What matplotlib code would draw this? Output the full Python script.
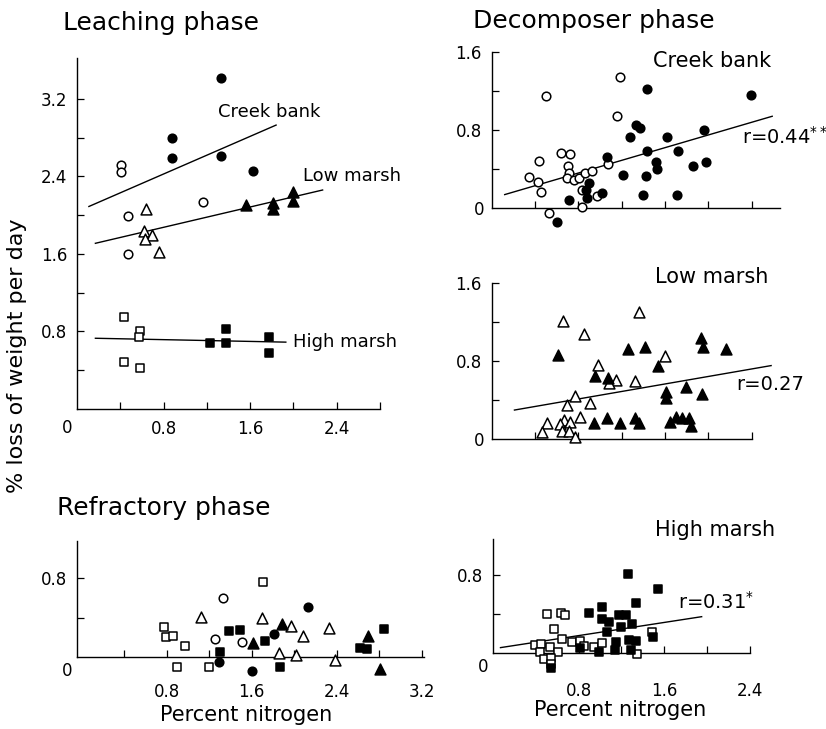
import matplotlib
matplotlib.use("Agg")
import matplotlib.pyplot as plt

# ---- data (percent N vs % loss of weight per day) ----
# Leaching phase
leach_cb_open_x = [0.41, 0.41, 0.47, 0.47, 1.16]
leach_cb_open_y = [2.52, 2.45, 1.99, 1.60, 2.14]
leach_cb_fill_x = [0.88, 0.88, 1.33, 1.33, 1.63]
leach_cb_fill_y = [2.80, 2.59, 3.42, 2.61, 2.46]
leach_lm_open_x = [0.64, 0.62, 0.69, 0.63, 0.76]
leach_lm_open_y = [2.06, 1.84, 1.80, 1.755, 1.62]
leach_lm_fill_x = [1.56, 1.815, 1.815, 2.0, 2.0]
leach_lm_fill_y = [2.11, 2.13, 2.06, 2.24, 2.15]
leach_hm_open_x = [0.43, 0.58, 0.57, 0.43, 0.58]
leach_hm_open_y = [0.95, 0.81, 0.74, 0.49, 0.42]
leach_hm_fill_x = [1.38, 1.23, 1.38, 1.77, 1.77]
leach_hm_fill_y = [0.83, 0.68, 0.68, 0.74, 0.58]
leach_cb_fit_x, leach_cb_fit_y = [0.11, 1.84], [2.09, 2.93]
leach_lm_fit_x, leach_lm_fit_y = [0.17, 2.27], [1.71, 2.26]
leach_hm_fit_x, leach_hm_fit_y = [0.17, 1.93], [0.73, 0.69]

# Decomposer phase - creek bank
cb_open_x = [1.185, 0.502, 1.16, 0.64, 0.723, 0.437, 0.707, 0.347, 0.43, 0.455, 0.714,
             0.693, 0.76, 0.806, 0.861, 0.923, 1.077, 0.831, 0.97, 0.837, 0.532]
cb_open_y = [1.345, 1.151, 0.943, 0.568, 0.552, 0.483, 0.435, 0.323, 0.272, 0.163, 0.358,
             0.306, 0.289, 0.306, 0.358, 0.384, 0.449, 0.187, 0.126, 0.01, -0.045]
cb_fill_x = [0.606, 0.714, 0.877, 0.87, 0.901, 1.018, 1.062, 1.21, 1.277, 1.332, 1.369, 1.431,
             1.431, 1.425, 1.40, 1.517, 1.529, 1.615, 1.723, 1.708, 1.855, 1.96, 1.978, 2.394]
cb_fill_y = [-0.143, 0.085, 0.102, 0.187, 0.255, 0.16, 0.52, 0.34, 0.725, 0.851, 0.817, 1.215,
             0.589, 0.334, 0.136, 0.470, 0.398, 0.732, 0.589, 0.136, 0.436, 0.80, 0.477, 1.157]
cb_fit_x, cb_fit_y = [0.12, 2.59], [0.14, 0.94]

# Decomposer phase - low marsh
lm_open_x = [0.657, 0.849, 1.364, 1.596, 0.978, 1.151, 1.086, 1.321, 0.772, 0.91, 0.694, 0.812,
             0.515, 0.463, 0.664, 0.633, 0.725, 0.648, 0.716, 0.772]
lm_open_y = [1.217, 1.077, 1.309, 0.855, 0.759, 0.608, 0.574, 0.598, 0.448, 0.376, 0.352, 0.232,
             0.164, 0.072, 0.198, 0.154, 0.178, 0.085, 0.085, 0.02]
lm_fill_x = [0.608, 1.256, 1.42, 1.929, 1.954, 2.167, 1.534, 0.957, 1.071, 1.605, 1.614, 1.79,
             1.944, 0.941, 1.065, 1.182, 1.327, 1.358, 1.645, 1.698, 1.759, 1.821, 1.843]
lm_fill_y = [0.865, 0.923, 0.947, 1.043, 0.947, 0.923, 0.752, 0.65, 0.632, 0.489, 0.427, 0.54,
             0.465, 0.171, 0.215, 0.171, 0.215, 0.164, 0.181, 0.232, 0.222, 0.222, 0.137]
lm_fit_x, lm_fit_y = [0.21, 2.58], [0.30, 0.756]

# Decomposer phase - high marsh
hm_open_x = [0.505, 0.631, 0.672, 0.571, 0.647, 0.741, 0.814, 0.388, 0.445, 0.435, 0.53, 0.609,
             0.476, 0.546, 0.539, 0.855, 0.94, 1.019, 1.486, 1.35]
hm_open_y = [0.398, 0.409, 0.391, 0.249, 0.143, 0.112, 0.126, 0.085, 0.092, 0.01, 0.061, 0.017,
             -0.058, -0.051, -0.112, 0.075, 0.061, 0.102, 0.221, -0.007]
hm_fill_x = [0.539, 1.262, 1.546, 1.334, 0.893, 1.019, 1.019, 1.088, 1.177, 1.24, 1.192, 1.297,
             1.066, 1.145, 1.139, 1.271, 1.341, 1.287, 1.492, 0.814, 0.987]
hm_fill_y = [-0.153, 0.81, 0.654, 0.511, 0.415, 0.477, 0.347, 0.317, 0.391, 0.391, 0.272, 0.296,
             0.221, 0.119, 0.034, 0.136, 0.126, 0.034, 0.17, 0.051, 0.017]
hm_fit_x, hm_fit_y = [0.07, 1.95], [0.058, 0.374]

# Refractory phase (all three sites)
ref_sq_open_x = [1.704, 0.776, 0.791, 0.863, 0.972, 0.894, 1.196]
ref_sq_open_y = [0.759, 0.306, 0.204, 0.214, 0.112, -0.109, -0.109]
ref_ci_open_x = [1.33, 1.252, 1.511]
ref_ci_open_y = [0.604, 0.177, 0.146]
ref_tr_open_x = [1.121, 1.695, 1.975, 2.084, 2.327, 1.86, 2.016, 2.389]
ref_tr_open_y = [0.408, 0.391, 0.316, 0.214, 0.296, 0.041, 0.017, -0.034]
ref_sq_fill_x = [1.386, 1.492, 1.729, 1.299, 1.869, 2.617, 2.685, 2.847]
ref_sq_fill_y = [0.262, 0.272, 0.16, 0.051, -0.109, 0.085, 0.075, 0.282]
ref_ci_fill_x = [2.131, 1.813, 1.293, 1.601]
ref_ci_fill_y = [0.506, 0.234, -0.058, -0.143]
ref_tr_fill_x = [1.617, 1.885, 2.695, 2.804]
ref_tr_fill_y = [0.143, 0.337, 0.207, -0.126]

W, H = 826, 729
fig = plt.figure(figsize=(W / 100, H / 100), dpi=100)
plt.rcParams["font.family"] = "DejaVu Sans"


def add_panel(x0px, xscale, xlim, y0px, yscale, ylim):
    # place axes so that data (0,0) lands on the pixel of the scanned original
    left = x0px + xlim[0] * xscale
    right = x0px + xlim[1] * xscale
    top = y0px - ylim[1] * yscale
    bottom = y0px - ylim[0] * yscale
    ax = fig.add_axes([left / W, 1 - bottom / H, (right - left) / W, (bottom - top) / H])
    ax.set_xlim(*xlim)
    ax.set_ylim(*ylim)
    ax.spines["top"].set_visible(False)
    ax.spines["right"].set_visible(False)
    ax.spines["bottom"].set_position(("data", 0))
    for s in ("left", "bottom"):
        ax.spines[s].set_linewidth(1.0)
    ax.tick_params(direction="in", length=5, width=0.9, labelsize=12)
    ax.tick_params(axis="y", pad=7)
    ax.patch.set_alpha(0)
    return ax


def ticks(ax, xt, yt, xpad=None):
    ax.set_xticks(xt)
    ax.set_xticklabels(["%.1f" % v if round(v / 0.8, 3) % 1 == 0 else "" for v in xt])
    ax.set_yticks(yt)
    ax.set_yticklabels(["%.1f" % v if round(v / 0.8, 3) % 1 == 0 else "" for v in yt])
    if xpad is None:
        ax.tick_params(axis="x", labelbottom=False)
    else:
        ax.tick_params(axis="x", pad=xpad)


def pts(ax, x, y, marker, filled, ms):
    ax.scatter(x, y, marker=marker, s=ms ** 2, facecolors="black" if filled else "white",
               edgecolors="black", linewidths=1.1, zorder=3, clip_on=False)


def fit(ax, x, y):
    ax.plot(x, y, color="black", lw=1.0, zorder=2)


def px(x, y):
    return x / W, 1 - y / H


CI, TR, SQ = 6.2, 7.8, 6.4

# ---- Leaching phase ----
ax = add_panel(77, 108.2, (0, 2.8), 409, 96.9, (0, 3.62))
ticks(ax, [0.4, 0.8, 1.2, 1.6, 2.0, 2.4, 2.8], [0.4, 0.8, 1.2, 1.6, 2.0, 2.4, 2.8, 3.2], xpad=8)
fit(ax, leach_cb_fit_x, leach_cb_fit_y)
fit(ax, leach_lm_fit_x, leach_lm_fit_y)
fit(ax, leach_hm_fit_x, leach_hm_fit_y)
pts(ax, leach_cb_open_x, leach_cb_open_y, "o", False, CI)
pts(ax, leach_cb_fill_x, leach_cb_fill_y, "o", True, CI)
pts(ax, leach_lm_open_x, leach_lm_open_y, "^", False, TR)
pts(ax, leach_lm_fill_x, leach_lm_fill_y, "^", True, TR)
pts(ax, leach_hm_open_x, leach_hm_open_y, "s", False, SQ)
pts(ax, leach_hm_fill_x, leach_hm_fill_y, "s", True, SQ)
ax.text(1.78, 3.07, "Creek bank", fontsize=13, ha="center", va="center")
ax.text(2.54, 2.40, "Low marsh", fontsize=13, ha="center", va="center")
ax.text(2.48, 0.69, "High marsh", fontsize=13, ha="center", va="center")
ax.annotate("0", (0, 0), xytext=(-7, -14), textcoords="offset points", fontsize=12,
            ha="center", va="center")

# ---- Decomposer phase: creek bank ----
ax = add_panel(491.7, 108.3, (0, 2.7), 208.3, 97.9, (-0.2, 1.6))
ax.spines["left"].set_bounds(0, 1.6)
ax.spines["bottom"].set_bounds(0, 2.66)
ticks(ax, [0.4, 0.8, 1.2, 1.6, 2.0, 2.4], [0.4, 0.8, 1.2, 1.6])
fit(ax, cb_fit_x, cb_fit_y)
pts(ax, cb_open_x, cb_open_y, "o", False, CI)
pts(ax, cb_fill_x, cb_fill_y, "o", True, CI)
ax.annotate("0", (0, 0), xytext=(-9, -1), textcoords="offset points", fontsize=12,
            ha="center", va="center")

# ---- Decomposer phase: low marsh ----
ax = add_panel(491.7, 108.3, (0, 2.7), 439.3, 97.5, (-0.1, 1.6))
ax.spines["left"].set_bounds(0, 1.6)
ax.spines["bottom"].set_bounds(0, 2.4)
ticks(ax, [0.4, 0.8, 1.2, 1.6, 2.0, 2.4], [0.4, 0.8, 1.2, 1.6])
fit(ax, lm_fit_x, lm_fit_y)
pts(ax, lm_open_x, lm_open_y, "^", False, TR)
pts(ax, lm_fill_x, lm_fill_y, "^", True, TR)
ax.annotate("0", (0, 0), xytext=(-9, -1), textcoords="offset points", fontsize=12,
            ha="center", va="center")

# ---- Decomposer phase: high marsh ----
ax = add_panel(493, 107, (0, 2.7), 653.3, 97.9, (-0.2, 1.17))
ax.spines["left"].set_bounds(0, 1.17)
ax.spines["bottom"].set_bounds(0, 2.4)
ticks(ax, [0.4, 0.8, 1.2, 1.6, 2.0, 2.4], [0.4, 0.8], xpad=21)
fit(ax, hm_fit_x, hm_fit_y)
pts(ax, hm_open_x, hm_open_y, "s", False, SQ)
pts(ax, hm_fill_x, hm_fill_y, "s", True, SQ)
ax.annotate("0", (0, 0), xytext=(-7, -10), textcoords="offset points", fontsize=12,
            ha="center", va="center")

# ---- Refractory phase ----
ax = add_panel(81.5, 106.3, (-0.04, 3.22), 656.7, 98.0, (-0.2, 1.18))
ax.spines["left"].set_bounds(0, 1.18)
ax.spines["bottom"].set_bounds(-0.04, 3.22)
ticks(ax, [0.4, 0.8, 1.2, 1.6, 2.0, 2.4, 2.8, 3.2], [0.4, 0.8], xpad=19)
pts(ax, ref_sq_open_x, ref_sq_open_y, "s", False, SQ)
pts(ax, ref_ci_open_x, ref_ci_open_y, "o", False, CI)
pts(ax, ref_tr_open_x, ref_tr_open_y, "^", False, TR)
pts(ax, ref_sq_fill_x, ref_sq_fill_y, "s", True, SQ)
pts(ax, ref_ci_fill_x, ref_ci_fill_y, "o", True, CI)
pts(ax, ref_tr_fill_x, ref_tr_fill_y, "^", True, TR)
ax.annotate("0", (0, 0), xytext=(-10, -10), textcoords="offset points", fontsize=12,
            ha="center", va="center")

# ---- titles and free text ----
fig.text(*px(63, 30), "Leaching phase", fontsize=18, va="baseline")
fig.text(*px(473, 28), "Decomposer phase", fontsize=18, va="baseline")
fig.text(*px(57, 515), "Refractory phase", fontsize=18, va="baseline")
fig.text(*px(653, 66.7), "Creek bank", fontsize=15, va="baseline")
fig.text(*px(655, 283), "Low marsh", fontsize=15, va="baseline")
fig.text(*px(655, 536), "High marsh", fontsize=15, va="baseline")
fig.text(*px(741.7, 136.7), r"r=0.44$^{**}$", fontsize=14, va="center")
fig.text(*px(736.7, 385), "r=0.27", fontsize=14, va="center")
fig.text(*px(678, 601.7), r"r=0.31$^{*}$", fontsize=14, va="center")
fig.text(*px(246, 721), "Percent nitrogen", fontsize=15, ha="center", va="baseline")
fig.text(*px(620, 716.5), "Percent nitrogen", fontsize=15, ha="center", va="baseline")
fig.text(*px(17, 356), "% loss of weight per day", fontsize=16, rotation=90,
         ha="center", va="center")

fig.savefig("out.png", dpi=100)
